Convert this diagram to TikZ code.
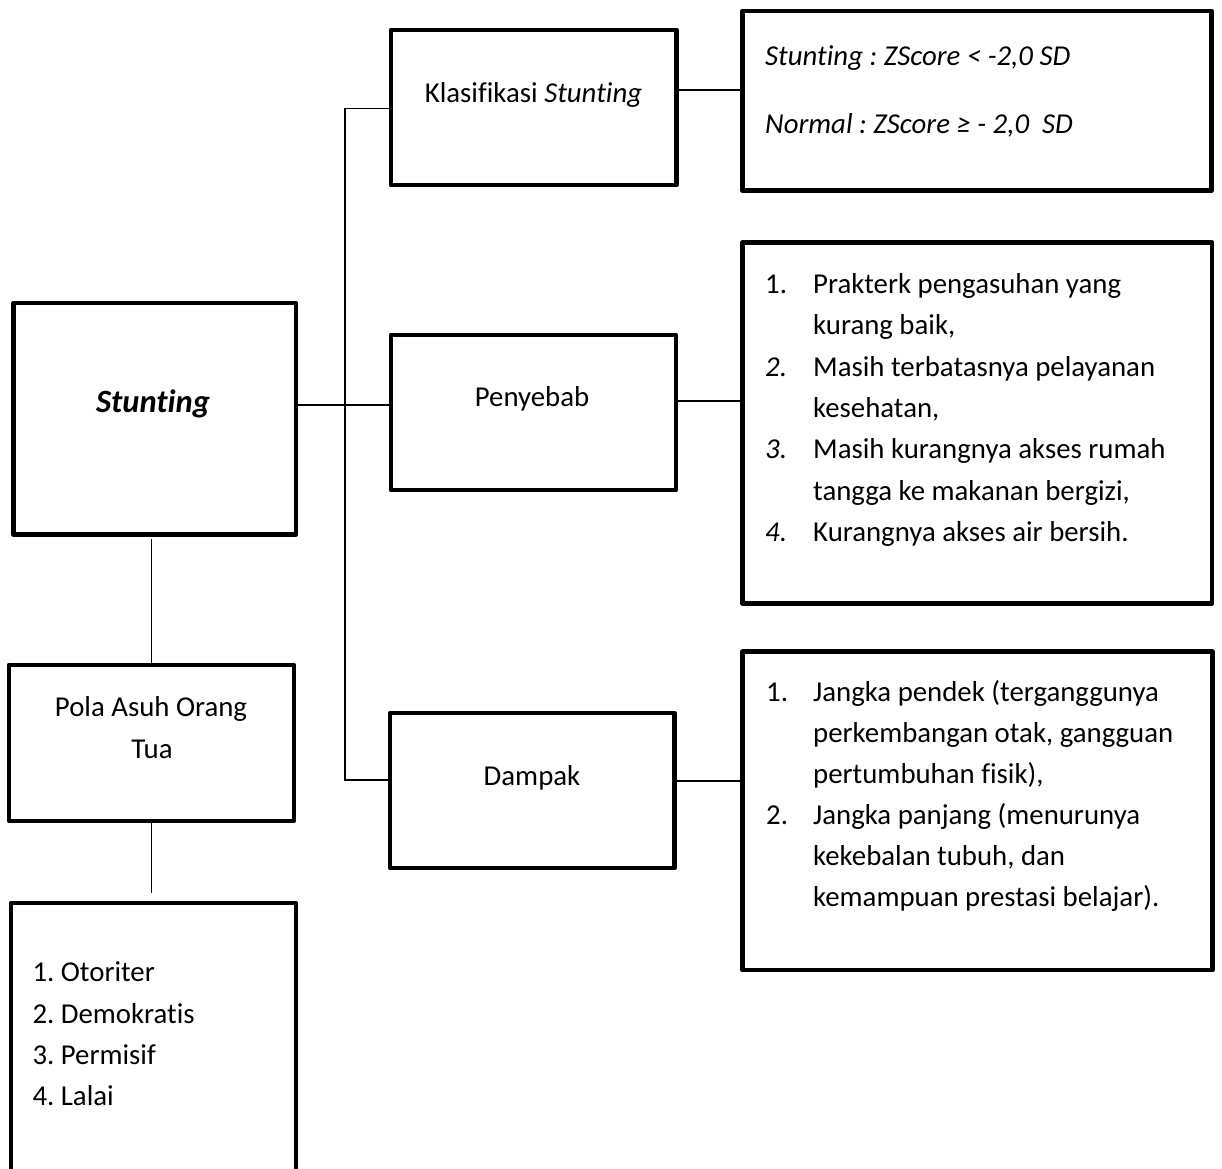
\documentclass[tikz,border=0pt]{standalone}
\usepackage{fontspec}
\setmainfont{Carlito}[Ligatures=NoCommon]
\frenchspacing
\begin{document}
\frenchspacing
\begin{tikzpicture}[x=1pt,y=-1pt,
  box/.style={draw, line width=4.5pt, line join=round, inner sep=0pt},
  conn/.style={line width=1.6pt},
  txt/.style={inner sep=0pt, font=\fontsize{28.8pt}{41.4pt}\selectfont},
  txtb/.style={inner sep=0pt, font=\fontsize{28.8pt}{41pt}\selectfont}]
\useasboundingbox (0,0) rectangle (1222,1168);
\clip (0,0) rectangle (1222,1168);
% boxes
\node[box, minimum width=282.5pt, minimum height=231.5pt] (stunting) at (154.75,418.75) {};
\node[box, minimum width=285.5pt, minimum height=155pt] (klas) at (533.75,107.5) {};
\node[box, minimum width=469pt, minimum height=179.7pt] (klasinfo) at (977,100.85) {};
\node[box, minimum width=285pt, minimum height=155pt] (peny) at (533.5,412.5) {};
\node[box, minimum width=469.5pt, minimum height=361pt] (penyinfo) at (977.25,423) {};
\node[box, minimum width=284.5pt, minimum height=155pt] (dampak) at (532.25,790.5) {};
\node[box, minimum width=470pt, minimum height=318.3pt] (dampakinfo) at (977.5,810.85) {};
\node[box, minimum width=285pt, minimum height=155.8pt] (pola) at (151.5,742.9) {};
\node[box, minimum width=285pt, minimum height=347pt] (polalist) at (153.5,1076.5) {};
% texts
\node[inner sep=0pt, font=\fontsize{32.5pt}{40pt}\selectfont, anchor=base] (stuntingtxt) at (153,412) {\bfseries\itshape Stunting};
\node[txt, anchor=base] (klastxt) at (533.5,102.5) {Klasifikasi \textit{Stunting}};
\node[txt, anchor=base west] (klasinfo1) at (765,65) {\itshape Stunting : ZScore < -2,0 SD};
\node[txt, anchor=base west] (klasinfo2) at (765,133) {\itshape Normal : ZScore ≥ - 2,0 \ SD};
\node[txt, anchor=base] (penytxt) at (532,406) {Penyebab};
\node[txt, anchor=base west] (penyinfotxt) at (765,293.3) {%
\begin{tabular}[t]{@{}p{48pt}@{}l@{}}
1. & Prakterk pengasuhan yang\\
 & kurang baik,\\
\textit{2.} & Masih terbatasnya pelayanan\\
 & kesehatan,\\
\textit{3.} & Masih kurangnya akses rumah\\
 & tangga ke makanan bergizi,\\
\textit{4.} & Kurangnya akses air bersih.
\end{tabular}};
\node[txt, anchor=base] (dampaktxt) at (532,785.7) {Dampak};
\node[txtb, anchor=base west] (dampakinfotxt) at (766,701.7) {%
\begin{tabular}[t]{@{}p{47pt}@{}l@{}}
1. & Jangka pendek (terganggunya\\
 & perkembangan otak, gangguan\\
 & pertumbuhan fisik),\\
2. & Jangka panjang (menurunya\\
 & kekebalan tubuh, dan\\
 & kemampuan prestasi belajar).
\end{tabular}};
\node[txt, anchor=base] (polatxt1) at (151,716.7) {Pola Asuh Orang};
\node[txt, anchor=base] (polatxt2) at (152,758.3) {Tua};
\node[txt, anchor=base west] (polalisttxt) at (32.3,981.7) {%
\begin{tabular}[t]{@{}l@{}}
1. Otoriter\\
2. Demokratis\\
3. Permisif\\
4. Lalai
\end{tabular}};
% connectors
\coordinate (jtop) at (345,108.3);
\coordinate (jbot) at (345,780);
\draw[conn] (klas.west |- jtop) -- (jtop) -- (jbot) -- (dampak.west |- jbot);
\draw[conn] (stunting.east |- 0,405) -- (peny.west |- 0,405);
\draw[conn] (klas.east |- 0,90) -- (klasinfo.west |- 0,90);
\draw[conn] (peny.east |- 0,400.7) -- (penyinfo.west |- 0,400.7);
\draw[conn] (dampak.east |- 0,781) -- (dampakinfo.west |- 0,781);
\draw[conn, shorten <=2pt] (stunting.south -| pola.north) -- (pola.north);
\draw[conn, shorten >=8pt] (pola.south) -- (polalist.north -| pola.south);
\end{tikzpicture}
\end{document}
